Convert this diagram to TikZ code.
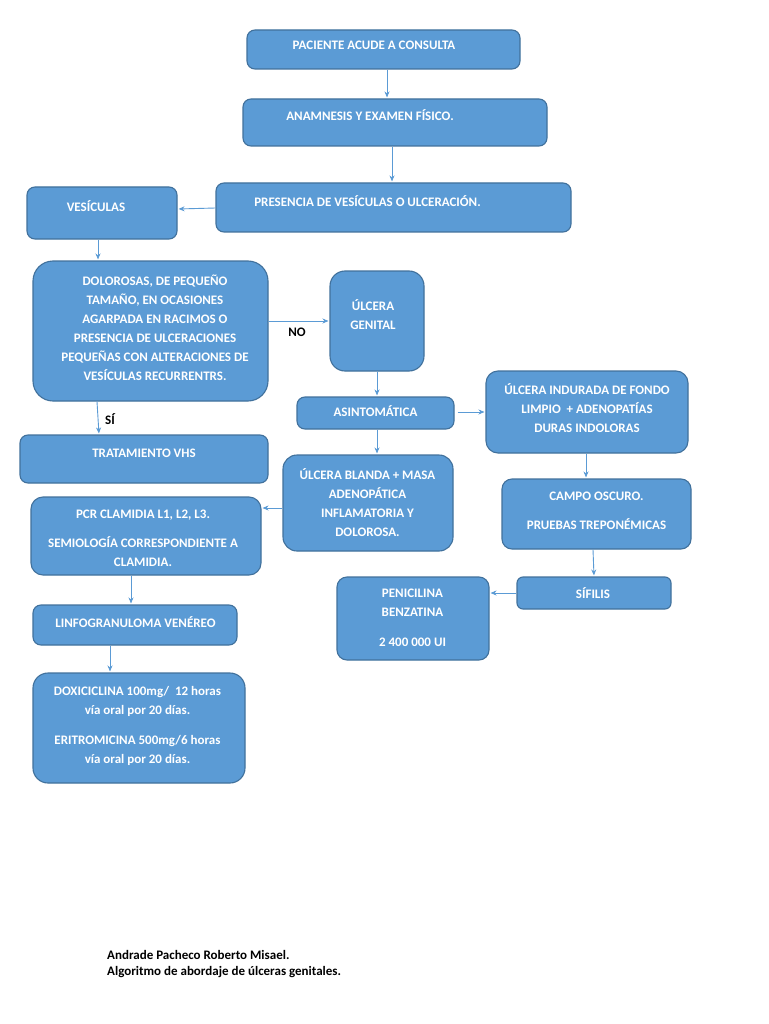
\documentclass[tikz,border=0pt]{standalone}
\usepackage{fontspec}
\setmainfont{Carlito}
\usetikzlibrary{arrows.meta}
\definecolor{boxfill}{HTML}{5B9BD5}
\definecolor{boxline}{HTML}{41719C}
\definecolor{arrcol}{HTML}{5B9BD5}
\tikzset{
  box/.style={draw=boxline, fill=boxfill, line width=1.1pt, rounded corners=8pt, inner sep=0pt},
  txt/.style={text=white, font=\fontsize{13}{19}\selectfont\bfseries, align=center, inner sep=0pt},
  lbl/.style={text=black, font=\fontsize{13}{19}\selectfont\bfseries, inner sep=0pt},
  arr/.style={draw=arrcol, line width=0.9pt, -{Stealth[length=6pt,width=5pt]}, shorten >=1pt},
  foot/.style={text=black, font=\fontsize{13}{16}\selectfont\bfseries, align=left, inner sep=0pt}
}
\begin{document}
\begin{tikzpicture}[x=1pt,y=-1pt]
\useasboundingbox[fill=white] (0,0) rectangle (768,1024);
% boxes
\node[box, minimum width=273pt, minimum height=39pt] (b1) at (383.5,49.5) {};
\node[box, minimum width=304pt, minimum height=47pt] (b2) at (395,122.5) {};
\node[box, minimum width=355pt, minimum height=49pt] (b3) at (393.5,207.5) {};
\node[box, minimum width=150pt, minimum height=52pt] (b4) at (102,213) {};
\node[box, minimum width=235pt, minimum height=140pt, rounded corners=20pt] (b5) at (150.5,331) {};
\node[box, minimum width=94pt, minimum height=100pt, rounded corners=15pt] (b6) at (377,321) {};
\node[box, minimum width=157pt, minimum height=32pt] (b7) at (375.5,413) {};
\node[box, minimum width=202pt, minimum height=82pt, rounded corners=12pt] (b8) at (587,412) {};
\node[box, minimum width=248pt, minimum height=48pt] (b9) at (144,459) {};
\node[box, minimum width=170pt, minimum height=96pt, rounded corners=14pt] (b10) at (368,503) {};
\node[box, minimum width=230pt, minimum height=78pt, rounded corners=12pt] (b11) at (146,536) {};
\node[box, minimum width=189pt, minimum height=70pt, rounded corners=10pt] (b12) at (596.5,514) {};
\node[box, minimum width=154pt, minimum height=32pt, rounded corners=6pt] (b13) at (594,593) {};
\node[box, minimum width=152pt, minimum height=83pt, rounded corners=10pt] (b14) at (413,618.5) {};
\node[box, minimum width=204pt, minimum height=40pt] (b15) at (135,625) {};
\node[box, minimum width=212pt, minimum height=110pt, rounded corners=15pt] (b16) at (139,728) {};
% texts
\node[txt] (t1) at (374,45) {PACIENTE ACUDE A CONSULTA};
\node[txt] (t2) at (370,115) {ANAMNESIS Y EXAMEN FÍSICO.};
\node[txt] (t3) at (367.5,201) {PRESENCIA DE VESÍCULAS O ULCERACIÓN.};
\node[txt] (t4) at (96,206) {VESÍCULAS};
\node[txt] (t5) at (155,327.5) {DOLOROSAS, DE PEQUEÑO\\TAMAÑO, EN OCASIONES\\AGARPADA EN RACIMOS O\\PRESENCIA DE ULCERACIONES\\PEQUEÑAS CON ALTERACIONES DE\\VESÍCULAS RECURRENTRS.};
\node[txt] (t6) at (373,315) {ÚLCERA\\GENITAL};
\node[txt] (t7) at (375.5,411) {ASINTOMÁTICA};
\node[txt] (t8) at (587,408) {ÚLCERA INDURADA DE FONDO\\LIMPIO\ \ + ADENOPATÍAS\\DURAS INDOLORAS};
\node[txt] (t9) at (144,453) {TRATAMIENTO VHS};
\node[txt] (t10) at (367.5,503) {ÚLCERA BLANDA + MASA\\ADENOPÁTICA\\INFLAMATORIA Y\\DOLOROSA.};
\node[txt] (t11) at (143,538.5) {PCR CLAMIDIA L1, L2, L3.\\[10pt]SEMIOLOGÍA CORRESPONDIENTE A\\CLAMIDIA.};
\node[txt] (t12) at (596.5,511) {CAMPO OSCURO.\\[10pt]PRUEBAS TREPONÉMICAS};
\node[txt] (t13) at (593,593) {SÍFILIS};
\node[txt] (t14) at (412.5,617.5) {PENICILINA\\BENZATINA\\[11pt]2 400 000 UI};
\node[txt] (t15) at (135.5,622) {LINFOGRANULOMA VENÉREO};
\node[txt] (t16) at (137.5,726) {DOXICICLINA 100mg/\ \ 12 horas\\vía oral por 20 días.\\[11pt]ERITROMICINA 500mg/6 horas\\vía oral por 20 días.};
% labels
\node[lbl] (no) at (297,332) {NO};
\node[lbl] (si) at (110,419) {SÍ};
% arrows
\draw[arr] ([xshift=3.5pt]b1.south) -- ([xshift=-8pt]b2.north);
\draw[arr] ([xshift=-3pt]b2.south) -- ([xshift=-1.5pt]b3.north);
\draw[arr] ([yshift=-0.5pt]b3.west) -- ([yshift=4pt]b4.east);
\draw[arr] ([xshift=-4pt]b4.south) -- ([xshift=-52.5pt]b5.north);
\draw[arr] ([yshift=10pt]b5.east) -- ([yshift=0pt]b6.west);
\draw[arr] ([xshift=-53.5pt]b5.south) -- ([xshift=-45pt]b9.north);
\draw[arr] (b6.south) -- ([xshift=1.5pt]b7.north);
\draw[arr] ([xshift=1.5pt]b7.south) -- ([xshift=9pt]b10.north);
\draw[arr] ([xshift=3pt,yshift=1pt]b7.east) -- ([yshift=0pt]b8.west);
\draw[arr] ([yshift=-5pt]b10.west) -- ([yshift=28pt]b11.east);
\draw[arr] ([xshift=-1pt]b8.south) -- ([xshift=-10.5pt]b12.north);
\draw[arr] ([xshift=-3.5pt]b12.south) -- (b13.north);
\draw[arr] (b13.west) -- ([yshift=25.5pt]b14.east);
\draw[arr] ([xshift=-15pt]b11.south) -- ([xshift=-4pt]b15.north);
\draw[arr] ([xshift=-25pt]b15.south) -- ([xshift=-29pt]b16.north);
% footer
\node[foot, anchor=north west] (f1) at (107,950) {Andrade Pacheco Roberto Misael.\\Algoritmo de abordaje de úlceras genitales.};
\end{tikzpicture}
\end{document}
